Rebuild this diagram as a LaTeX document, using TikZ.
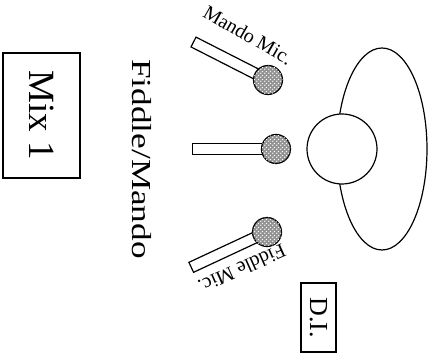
\documentclass[tikz,border=0pt]{standalone}
\usepackage{fontspec}
\setmainfont{Liberation Serif}
\usetikzlibrary{patterns}
% white dots on a diagonal grid for the mic heads
\pgfdeclarepatternformonly{meshdots}{\pgfpointorigin}{\pgfpoint{4pt}{4pt}}{\pgfpoint{4pt}{4pt}}{
    \pgfpathcircle{\pgfpoint{1pt}{1pt}}{0.85pt}
    \pgfpathcircle{\pgfpoint{3pt}{3pt}}{0.85pt}
    \pgfusepath{fill}
}
\tikzset{
    every picture/.style={x=1pt, y=1pt, line width=1.2pt},
    stick/.style={rectangle, draw, fill=white, minimum width=83pt, minimum height=11pt, inner sep=0pt, anchor=east},
    ball/.style={circle, draw, minimum size=29pt, inner sep=0pt, fill=gray!85, postaction={pattern=meshdots, pattern color=white}},
    miclabel/.style={font=\fontsize{20}{20}\selectfont, inner sep=0pt},
    box/.style={rectangle, draw, rotate=-90, inner sep=0pt},
}
\begin{document}
\begin{tikzpicture}
    \useasboundingbox (0,0) rectangle (432,358);
    \draw (382,209) ellipse [x radius=45, y radius=101];
    \node[circle, draw, fill=white, minimum size=70pt, inner sep=0pt] (head) at (342,209) {};
    \node[stick, rotate=-27] (mandostick) at (268,278) {};
    \node[ball] (mando) at (268,278) {};
    \node[stick] (midstick) at (276,209) {};
    \node[ball] (mid) at (276,209) {};
    \node[stick, rotate=25] (fiddlestick) at (267,126) {};
    \node[ball] (fiddle) at (267,126) {};
    \node[miclabel, rotate=-30] (mandolabel) at (248,323) {Mando Mic.};
    \node[miclabel, rotate=204] (fiddlelabel) at (242,89) {Fiddle Mic.};
    \node[rotate=-90, xscale=1.28, font=\fontsize{27.5}{27.5}\selectfont, inner sep=0pt] (player) at (142,199) {Fiddle/Mando};
    \node[box, minimum width=125pt, minimum height=77pt, font=\fontsize{37}{37}\selectfont] (mix) at (41.5,242.5) {Mix 1};
    \node[box, minimum width=69pt, minimum height=35pt, font=\fontsize{26}{26}\selectfont] (di) at (318.5,40.5) {D.I.};
\end{tikzpicture}
\end{document}
